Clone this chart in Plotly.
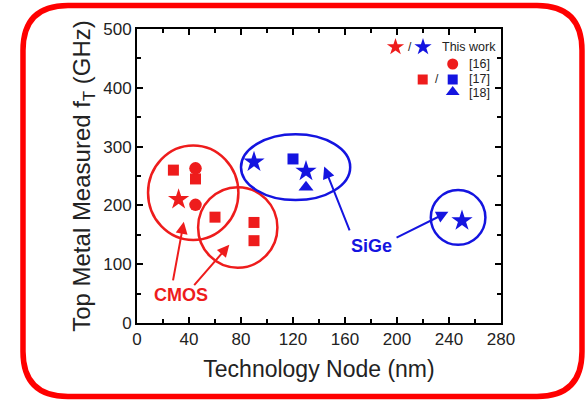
import plotly.graph_objects as go

# ---- data ----
cmos_star_x = [32]
cmos_star_y = [210]
cmos_circle_x = [45, 45]
cmos_circle_y = [263, 201]
cmos_square_x = [28, 45, 60, 90, 90]
cmos_square_y = [260, 245, 180, 171, 140]

sige_star_x = [90, 130, 250]
sige_star_y = [274, 258, 174]
sige_square_x = [120]
sige_square_y = [279]
sige_tri_x = [130]
sige_tri_y = [231]

x_ticks = [0, 40, 80, 120, 160, 200, 240, 280]
y_ticks = [0, 100, 200, 300, 400, 500]

RED = "#ee1c1c"
BLUE = "#1414e0"
FONT = "Liberation Sans, Arial, sans-serif"

# layout geometry (pixels)
W, H = 586, 402
L, R, T, B = 137, 501, 29, 323


def px2paper(px, py):
    return (px - L) / (R - L), (B - py) / (B - T)


STAR, SQ, CIR, TRI = 16, 11, 12.5, 13

fig = go.Figure()
mk = dict(line=dict(width=0))
fig.add_trace(go.Scatter(x=cmos_square_x, y=cmos_square_y, mode="markers",
                         marker=dict(symbol="square", size=SQ, color=RED, **mk)))
fig.add_trace(go.Scatter(x=cmos_circle_x, y=cmos_circle_y, mode="markers",
                         marker=dict(symbol="circle", size=CIR, color=RED, **mk)))
fig.add_trace(go.Scatter(x=cmos_star_x, y=cmos_star_y, mode="markers",
                         marker=dict(symbol="star", size=STAR, color=RED, **mk)))
fig.add_trace(go.Scatter(x=sige_square_x, y=sige_square_y, mode="markers",
                         marker=dict(symbol="square", size=SQ, color=BLUE, **mk)))
fig.add_trace(go.Scatter(x=sige_tri_x, y=sige_tri_y, mode="markers",
                         marker=dict(symbol="triangle-up", size=TRI, color=BLUE, **mk)))
fig.add_trace(go.Scatter(x=sige_star_x, y=sige_star_y, mode="markers",
                         marker=dict(symbol="star", size=STAR, color=BLUE, **mk)))

# legend key glyphs on an overlay axis spanning the plot area (0..1)
leg_keys = [  # (px, py, symbol, color, size)
    (395.5, 47, "star", RED, 13), (423, 47, "star", BLUE, 13),
    (452.7, 64, "circle", RED, 11),
    (422.7, 79.5, "square", RED, 10), (452.7, 79.5, "square", BLUE, 10),
    (452.7, 92, "triangle-up", BLUE, 12),
]
for (px, py, sym, col, sz) in leg_keys:
    xp, yp = px2paper(px, py)
    fig.add_trace(go.Scatter(x=[xp], y=[yp], xaxis="x2", yaxis="y2", mode="markers",
                             marker=dict(symbol=sym, size=sz, color=col, **mk),
                             hoverinfo="skip"))

shapes = []
# ellipses (data coords)
for (x0, x1, y0, y1, c) in [(8.5, 78, 141, 302, RED), (47, 108, 94, 231, RED),
                            (80, 164, 209, 321, BLUE), (226, 268, 133, 226, BLUE)]:
    shapes.append(dict(type="circle", xref="x", yref="y", x0=x0, x1=x1, y0=y0, y1=y1,
                       line=dict(color=c, width=2.5)))

# outer rounded frame
fl, fr, ft, fb, rad = 23, 582, 5.5, 396.5, 45
pts = lambda px, py: "%.4f,%.4f" % px2paper(px, py)
path = ("M " + pts(fl + rad, ft) + " L " + pts(fr - rad, ft) +
        " Q " + pts(fr, ft) + " " + pts(fr, ft + rad) +
        " L " + pts(fr, fb - rad) +
        " Q " + pts(fr, fb) + " " + pts(fr - rad, fb) +
        " L " + pts(fl + rad, fb) +
        " Q " + pts(fl, fb) + " " + pts(fl, fb - rad) +
        " L " + pts(fl, ft + rad) +
        " Q " + pts(fl, ft) + " " + pts(fl + rad, ft) + " Z")
shapes.append(dict(type="path", xref="paper", yref="paper", path=path,
                   line=dict(color="#ff0000", width=5.5), layer="above"))

annotations = []
# arrows
for (tx, ty, hx, hy, c) in [(27.5, 70, 36, 172, RED), (43, 62, 71, 133, RED),
                            (164, 155, 144, 266, BLUE), (198.5, 144, 239.5, 189, BLUE)]:
    annotations.append(dict(x=hx, y=hy, ax=tx, ay=ty, xref="x", yref="y",
                            axref="x", ayref="y", showarrow=True, arrowhead=2,
                            arrowsize=1.2, arrowwidth=2, arrowcolor=c, text=""))
annotations.append(dict(x=34, y=48, xref="x", yref="y", text="<b>CMOS</b>", showarrow=False,
                        font=dict(family=FONT, size=18, color=RED)))
annotations.append(dict(x=180.5, y=131, xref="x", yref="y", text="<b>SiGe</b>", showarrow=False,
                        font=dict(family=FONT, size=18, color=BLUE)))


def leg(px, py, text, size=12.5, anchor="left"):
    xp, yp = px2paper(px, py)
    annotations.append(dict(x=xp, y=yp, xref="paper", yref="paper", text=text,
                            showarrow=False, xanchor=anchor, yanchor="middle",
                            font=dict(family=FONT, size=size, color="#222")))


leg(409.5, 47, "/", 12, "center")
leg(440, 47, "This work")
leg(467, 64, "[16]")
leg(437, 79, "/", 12, "center")
leg(467, 79, "[17]")
leg(467, 93, "[18]")

axis_common = dict(showline=True, linewidth=2, linecolor="black", mirror="ticks",
                   ticks="inside", ticklen=6, tickwidth=2, tickcolor="black",
                   showgrid=False, zeroline=False,
                   tickfont=dict(family=FONT, size=17, color="#222"))

fig.update_layout(
    width=W, height=H,
    margin=dict(l=L, r=W - R, t=T, b=H - B),
    paper_bgcolor="white", plot_bgcolor="white",
    showlegend=False,
    shapes=shapes, annotations=annotations,
    xaxis=dict(range=[0, 280], tickvals=x_ticks, ticktext=[str(v) for v in x_ticks],
               minor=dict(ticks="inside", tickvals=[20, 60, 100, 140, 180, 220, 260],
                          ticklen=4, tickwidth=1.5, tickcolor="black"),
               title=dict(text="Technology Node (nm)", standoff=12,
                          font=dict(family=FONT, size=23, color="#222")),
               **axis_common),
    yaxis=dict(range=[0, 500], tickvals=y_ticks, ticktext=[str(v) for v in y_ticks],
               minor=dict(ticks="inside", tickvals=[50, 150, 250, 350, 450],
                          ticklen=4, tickwidth=1.5, tickcolor="black"),
               title=dict(text="Top Metal Measured f<sub>T</sub> (GHz)", standoff=6,
                          font=dict(family=FONT, size=24, color="#222")),
               **axis_common),
    xaxis2=dict(overlaying="x", range=[0, 1], visible=False, fixedrange=True),
    yaxis2=dict(overlaying="y", range=[0, 1], visible=False, fixedrange=True),
)
for tr in fig.data:
    tr.cliponaxis = False

fig.write_html("out.html")
